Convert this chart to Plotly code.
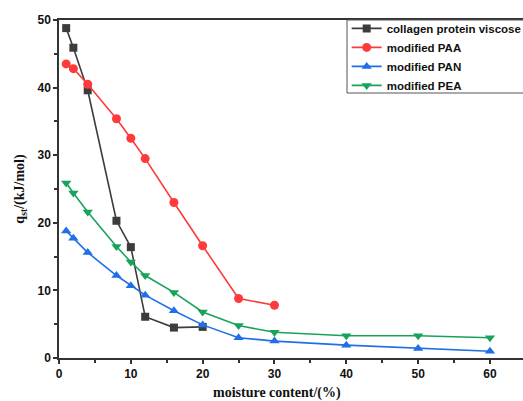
import plotly.graph_objects as go

# Isosteric heat of sorption vs. moisture content
x_collagen = [1, 2, 4, 8, 10, 12, 16, 20]
y_collagen = [48.8, 45.9, 39.6, 20.3, 16.4, 6.1, 4.5, 4.6]

x_paa = [1, 2, 4, 8, 10, 12, 16, 20, 25, 30]
y_paa = [43.5, 42.8, 40.5, 35.4, 32.5, 29.5, 23.0, 16.6, 8.8, 7.8]

x_pan = [1, 2, 4, 8, 10, 12, 16, 20, 25, 30, 40, 50, 60]
y_pan = [18.8, 17.7, 15.6, 12.2, 10.7, 9.3, 7.0, 4.9, 3.0, 2.5, 1.9, 1.4, 1.0]

x_pea = [1, 2, 4, 8, 10, 12, 16, 20, 25, 30, 40, 50, 60]
y_pea = [25.9, 24.4, 21.6, 16.5, 14.2, 12.2, 9.7, 6.8, 4.8, 3.8, 3.3, 3.3, 3.0]

names = ["collagen protein viscose", "modified PAA", "modified PAN", "modified PEA"]
colors = ["#3c3c3c", "#ff3a3a", "#1f6fe6", "#17a35c"]
symbols = ["square", "circle", "triangle-up", "triangle-down"]
sizes = [8, 9, 9, 9]
series = [(x_collagen, y_collagen), (x_paa, y_paa), (x_pan, y_pan), (x_pea, y_pea)]

fig = go.Figure()
for (xs, ys), name, color, sym, sz in zip(series, names, colors, symbols, sizes):
    fig.add_trace(go.Scatter(
        x=xs, y=ys, name=name, mode="lines+markers",
        line=dict(color=color, width=1.6),
        marker=dict(symbol=sym, size=sz, color=color),
    ))

tick_font = dict(family="Liberation Sans, Arial", size=12, color="#111", weight="bold")
title_font = dict(family="Liberation Serif, Times New Roman", size=14, color="#111", weight="bold")

# legend frame: open on the right, running past the figure edge
fig.add_shape(
    type="rect", xref="paper", yref="paper",
    x0=0.6207, x1=1.15, y0=0.784, y1=1.0,
    line=dict(color="#555", width=1), fillcolor="white", layer="above",
)

fig.update_layout(
    width=523, height=401,
    margin=dict(l=59, r=0, t=20, b=43, autoexpand=False),
    paper_bgcolor="white", plot_bgcolor="white",
    showlegend=True,
    legend=dict(
        x=0.62, xanchor="left", y=1.018, yanchor="top",
        bgcolor="rgba(0,0,0,0)", borderwidth=0,
        font=dict(family="Liberation Sans, Arial", size=11.5, color="#111", weight="bold"),
        tracegroupgap=0, itemwidth=30,
    ),
    xaxis=dict(
        range=[0, 64.6], dtick=10, tick0=0,
        showgrid=False, zeroline=False,
        showline=True, linecolor="#333", linewidth=1.5, mirror=True,
        ticks="outside", ticklen=4, tickwidth=1.5, tickcolor="#333",
        minor=dict(ticks="outside", ticklen=3, dtick=5, tickcolor="#333", tickwidth=1.5),
        tickfont=tick_font,
    ),
    yaxis=dict(
        range=[0, 50], dtick=10, tick0=0,
        showgrid=False, zeroline=False,
        showline=True, linecolor="#333", linewidth=1.5,
        ticks="outside", ticklen=4, tickwidth=1.5, tickcolor="#333",
        minor=dict(ticks="outside", ticklen=3, dtick=5, tickcolor="#333", tickwidth=1.5),
        tickfont=tick_font,
        title=dict(text="q<sub>st</sub>/(kJ/mol)", font=title_font, standoff=10),
    ),
    annotations=[dict(
        text="moisture content/(%)", xref="paper", yref="paper",
        x=0.47, y=-0.104, xanchor="center", yanchor="middle",
        showarrow=False, font=title_font,
    )],
)

fig.write_html("out.html")
